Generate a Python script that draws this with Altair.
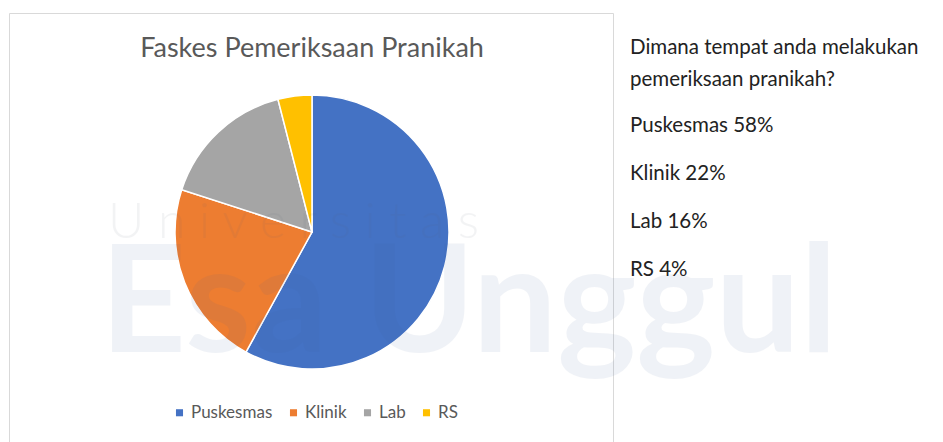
import altair as alt
import pandas as pd

categories = ["Puskesmas", "Klinik", "Lab", "RS"]
values = [58, 22, 16, 4]
colors = ["#4472C4", "#ED7D31", "#A5A5A5", "#FFC000"]

title_text = "Faskes Pemeriksaan Pranikah"
side_lines = ["Dimana tempat anda melakukan", "pemeriksaan pranikah?",
              "Puskesmas 58%", "Klinik 22%", "Lab 16%", "RS 4%"]
side_y = [48, 80, 126, 174, 222, 270]

df = pd.DataFrame({"kategori": categories, "nilai": values, "urut": list(range(len(categories)))})
side_df = pd.DataFrame({"teks": side_lines, "yy": side_y})

W, H = 943, 442
FONT = "Lato"

base = alt.Chart(pd.DataFrame({"a": [0]}))

watermark1 = base.mark_text(text="U n i v e r s i t a s", fontSize=50, font=FONT, fontWeight=300,
                            color="#5A6275", opacity=0.07, align="left", baseline="alphabetic").encode(
    x=alt.value(108), y=alt.value(238))
watermark2 = base.mark_text(text="Esa Unggul", fontSize=150, font=FONT, fontWeight="bold",
                            color="#3D5F99", opacity=0.075, align="left", baseline="alphabetic").encode(
    x=alt.value(100), y=alt.value(352))

box = base.mark_rect(fill="white", fillOpacity=0, stroke="#D9D9D9", strokeWidth=1).encode(
    x=alt.value(9.5), x2=alt.value(613.5), y=alt.value(13.5), y2=alt.value(460))

title = base.mark_text(text=title_text, fontSize=27, font=FONT, color="#595959",
                       align="center", baseline="middle").encode(
    x=alt.value(312), y=alt.value(49))

pie = alt.Chart(df).mark_arc(radius=137, stroke="white", strokeWidth=1.5).encode(
    theta=alt.Theta("nilai:Q", stack=True),
    order=alt.Order("urut:Q"),
    color=alt.Color("kategori:N", sort=categories,
                    scale=alt.Scale(domain=categories, range=colors),
                    legend=alt.Legend(title=None, orient="none", legendX=171, legendY=404,
                                      direction="horizontal", symbolType="square", symbolSize=50,
                                      symbolStrokeWidth=0, labelFont=FONT, labelFontSize=17,
                                      labelColor="#595959", columnPadding=12, labelOffset=3)),
    x=alt.value(312), y=alt.value(232),
)

side = alt.Chart(side_df).mark_text(fontSize=20.5, font=FONT, color="#222222",
                                     align="left", baseline="middle").encode(
    text="teks:N", x=alt.value(630), y=alt.Y("yy:Q", scale=None, axis=None))

chart = alt.layer(box, title, pie, side, watermark1, watermark2).properties(
    width=W, height=H, padding=0, autosize=alt.AutoSizeParams(type="none"),
    background="white"
).configure_view(stroke=None)

chart.save("out.html", embed_options={"renderer": "svg", "actions": False})
